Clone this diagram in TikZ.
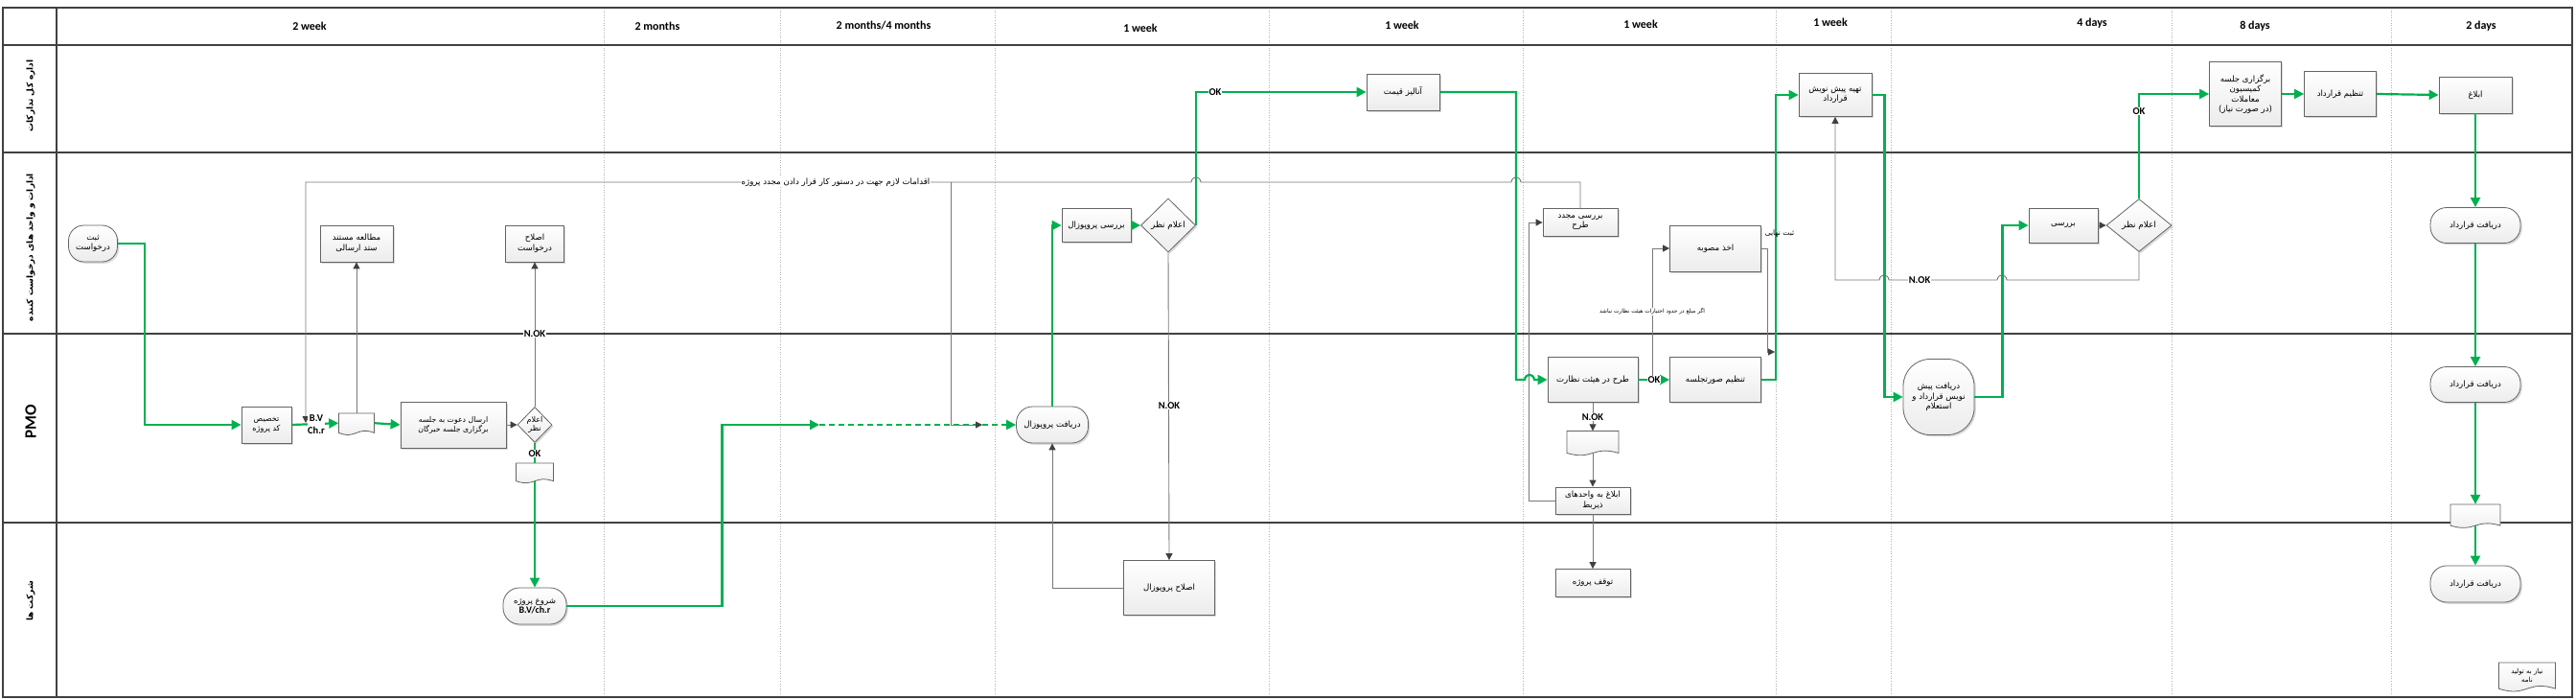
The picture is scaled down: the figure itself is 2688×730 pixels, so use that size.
\documentclass[tikz,border=0pt]{standalone}
\usepackage{fontspec}
\setmainfont{Carlito}
\newfontfamily\fa[Script=Arabic]{DejaVu Sans}
\TeXXeTstate=1
\usetikzlibrary{arrows.meta,shapes.geometric,calc,shadows}
\definecolor{pgreen}{RGB}{0,176,80}
\definecolor{lanecol}{RGB}{64,64,64}
\definecolor{linegray}{RGB}{120,120,120}
\definecolor{arrowgray}{RGB}{64,64,64}
\definecolor{boxborder}{RGB}{100,100,100}
\newcommand{\rl}[1]{\beginR #1\endR}
\newcommand{\docshape}[6]{%
  \path[draw=boxborder, line width=0.8pt, top color=white, bottom color=gray!15]
   ({#2-#4/2},{#3-#5/2}) -- ({#2+#4/2},{#3-#5/2}) -- ({#2+#4/2},{#3+0.35*#5})
   .. controls ({#2},{#3+0.05*#5}) and ({#2},{#3+0.65*#5}) .. ({#2-#4/2},{#3+0.35*#5}) -- cycle;
  \node[inner sep=0pt, minimum width=#4, minimum height={0.85*#5}, align=center, font=\fa\fontsize{7}{8.5}\selectfont, anchor=center] (#1) at (#2,{#3-0.075*#5}) {#6};}
\tikzset{
 box/.style={draw=boxborder, line width=0.8pt, top color=white, bottom color=gray!15, align=center, inner sep=1pt,
   font=\fa\fontsize{8.6}{10.5}\selectfont, drop shadow={shadow xshift=1.8pt, shadow yshift=-1.8pt, opacity=0.15, fill=black}},
 term/.style={box, rounded corners=#1},
 term/.default=15pt,
 dec/.style={diamond, draw=boxborder, line width=0.8pt, top color=white, bottom color=gray!15, inner sep=0pt,
   drop shadow={shadow xshift=1.8pt, shadow yshift=-1.8pt, opacity=0.15, fill=black}},
 dectext/.style={font=\fa\fontsize{8.8}{10}\selectfont, align=center, inner sep=0pt},
 lbl/.style={font=\bfseries\fontsize{10.5}{11}\selectfont, fill=white, inner sep=0.6pt},
 gline/.style={draw=pgreen, line width=2.2pt, -{Triangle[length=10pt,width=10pt]}},
 gplain/.style={draw=pgreen, line width=2.2pt},
 garrow/.style={draw=linegray, line width=0.9pt, -{Triangle[length=7pt,width=7pt,color=arrowgray]}},
 lane/.style={draw=lanecol, line width=2.6pt},
 colline/.style={draw=gray!60, line width=0.6pt, dotted},
 hdr/.style={font=\bfseries\fontsize{12}{14}\selectfont},
 lanelbl/.style={rotate=90, font=\fa\bfseries\fontsize{9}{11}\selectfont},
}
\begin{document}
\begin{tikzpicture}[x=1pt,y=-1pt]
\useasboundingbox (0,0) rectangle (2688,730);
\fill[white] (0,0) rectangle (2688,730);
% column dotted lines
\foreach \cx in {630,814,1038,1324,1589,1853,1973,2266,2495}
  \draw[colline] (\cx,8) -- (\cx,727);
% lanes
\draw[lane] (3,8) rectangle (2684,727);
\draw[lane] (59,8) -- (59,727);
\draw[lane] (3,47) -- (2684,47);
\draw[lane] (3,159) -- (2684,159);
\draw[lane] (3,348) -- (2684,348);
\draw[lane] (3,545) -- (2684,545);
% headers
\node[hdr] (h1) at (323,27) {2 week};
\node[hdr] (h2) at (686,27) {2 months};
\node[hdr] (h3) at (922,27) {2 months/4 months};
\node[hdr] (h4) at (1190,29) {1 week};
\node[hdr] (h5) at (1463,26) {1 week};
\node[hdr] (h6) at (1712,25) {1 week};
\node[hdr] (h7) at (1910,23) {1 week};
\node[hdr] (h8) at (2183,24) {4 days};
\node[hdr] (h9) at (2353,27) {8 days};
\node[hdr] (h10) at (2589,27) {2 days};
% lane labels
\node[lanelbl] (l1) at (32,100) {\rl{اداره کل تدارکات}};
\node[lanelbl] (l2) at (32,258) {\rl{ادارات و واحد های درخواست کننده}};
\node[rotate=90, font=\bfseries\fontsize{17}{18}\selectfont] (l3) at (32,440) {PMO};
\node[lanelbl] (l4) at (32,627) {\rl{شرکت ها}};

% ===== nodes =====
\node[term=16pt, minimum width=51, minimum height=38] (sabt) at (97,254) {\rl{ثبت}\\\rl{درخواست}};
\node[box, minimum width=76, minimum height=38] (motaleh) at (372,254) {\rl{مطالعه مستند}\\\rl{ستد ارسالی}};
\node[box, minimum width=61, minimum height=38] (eslahd) at (558,254) {\rl{اصلاح}\\\rl{درخواست}};
\node[box, minimum width=52, minimum height=38, font=\fa\fontsize{8}{10}\selectfont] (takhsis) at (278,443) {\rl{تخصیص}\\\rl{کد پروژه}};
\docshape{doc1}{372}{443}{37}{24}{}
\node[box, minimum width=110, minimum height=48, font=\fa\fontsize{7.8}{10}\selectfont] (ersal) at (473,443) {\rl{ارسال دعوت به جلسه}\\\rl{برگزاری جلسه خبرگان}};
\node[dec, minimum width=36, minimum height=37] (dec1) at (558,443) {};
\node[dectext, font=\fa\fontsize{8}{9.5}\selectfont] (dec1t) at (dec1) {\rl{اعلام}\\\rl{نظر}};
\docshape{doc2}{558}{494}{39}{22}{}
\node[term=17pt, minimum width=66, minimum height=38] (shoroo) at (558,632) {\rl{شروع پروژه}\\{\fontspec{Carlito}\bfseries\fontsize{10}{11}\selectfont B.V/ch.r}};
\node[term=17pt, minimum width=75, minimum height=38] (daryaftp) at (1098,443) {\rl{دریافت پروپوزال}};
\node[box, minimum width=72, minimum height=35] (barrasip) at (1144,235) {\rl{بررسی پروپوزال}};
\node[dec, minimum width=57, minimum height=56] (dec2) at (1219,235) {};
\node[dectext] (dec2t) at (dec2) {\rl{اعلام نظر}};
\node[box, minimum width=95, minimum height=57] (eslahp) at (1220,613) {\rl{اصلاح پروپوزال}};
\node[box, minimum width=76, minimum height=38] (analiz) at (1464,96) {\rl{آنالیز قیمت}};
\node[box, minimum width=78, minimum height=29] (barrasim) at (1649,232) {\rl{بررسی مجدد}\\\rl{طرح}};
\node[box, minimum width=94, minimum height=47] (tarh) at (1662,396) {\rl{طرح در هیئت نظارت}};
\docshape{doc3}{1662}{463}{54}{27}{}
\node[box, minimum width=78, minimum height=28] (eblaghv) at (1662,522) {\rl{ابلاغ به واحدهای}\\\rl{ذیربط}};
\node[box, minimum width=78, minimum height=29] (tavaghof) at (1662,608) {\rl{توقف پروژه}};
\node[box, minimum width=95, minimum height=48] (akhz) at (1790,259) {\rl{اخذ مصوبه}};
\node[box, minimum width=95, minimum height=47] (tanzims) at (1790,396) {\rl{تنظیم صورتجلسه}};
\node[box, minimum width=76, minimum height=45] (tahie) at (1915,99) {\rl{تهیه پیش نویش}\\\rl{قرارداد}};
\node[term=28pt, minimum width=74, minimum height=79] (daryaftpn) at (2023,414) {\rl{دریافت پیش}\\\rl{نویس قرارداد و}\\\rl{استعلام}};
\node[box, minimum width=72, minimum height=36] (barrasi) at (2153,235) {\rl{بررسی}};
\node[dec, minimum width=68, minimum height=55] (dec3) at (2232,235) {};
\node[dectext] (dec3t) at (dec3) {\rl{اعلام نظر}};
\node[box, minimum width=75, minimum height=67] (bargozari) at (2343,98) {\rl{برگزاری جلسه}\\\rl{کمیسیون}\\\rl{معاملات}\\\rl{(در صورت نیاز)}};
\node[box, minimum width=75, minimum height=47] (tanzimq) at (2442,98) {\rl{تنظیم قرارداد}};
\node[box, minimum width=76, minimum height=38] (eblagh) at (2583,99) {\rl{ابلاغ}};
\node[term=17pt, minimum width=94, minimum height=37] (dq1) at (2583,235) {\rl{دریافت قرارداد}};
\node[term=17pt, minimum width=94, minimum height=37] (dq2) at (2583,401) {\rl{دریافت قرارداد}};
\docshape{doc4}{2583}{539}{52}{26}{}
\node[term=17pt, minimum width=94, minimum height=38] (dq3) at (2583,609) {\rl{دریافت قرارداد}};
\docshape{doc5}{2637}{707}{59}{32}{\rl{نیاز به تولید}\\\rl{نامه}}

% ===== coordinates =====
\coordinate (bvpt) at (319,441);
\coordinate (gA) at (855,443);
\coordinate (brA) at (992,190);
\coordinate (brB) at (1025,443);
\coordinate (okpt) at (1724,396);
\coordinate (snpt) at (1852,367);

% ===== gray connectors =====
\draw[garrow] (barrasim.north) |- (1587,190) .. controls (1586,183) and (1578,183) .. (1577,190)
   -- (1253,190) .. controls (1252,183) and (1244,183) .. (1243,190) -- (319,190) -- (bvpt);
\node[font=\fa\fontsize{8.6}{10}\selectfont, fill=white, inner sep=1pt] (aqdamat) at (872,190) {\rl{اقدامات لازم جهت در دستور کار قرار دادن مجدد پروژه}};
\draw[garrow] (doc1.north) -- (motaleh.south);
\draw[garrow] (ersal.east) -- (dec1.west);
\draw[garrow] (dec1.north) -- (eslahd.south);
\node[lbl] (nok1) at (558,348) {N.OK};
\draw[garrow] (dec2.south) -- (eslahp.north);
\node[lbl] (nok2) at (1220,423) {N.OK};
\draw[garrow] (eslahp.west) -| (daryaftp.south);
\draw[garrow] (okpt) |- (akhz.west);
\node[font=\fa\fontsize{5.8}{7}\selectfont, fill=white, inner sep=0.5pt] (agar) at (1724,325) {\rl{اگر مبلغ در حدود اختیارات هیئت نظارت نباشد}};
\draw[garrow] (tarh.south) -- (doc3.north);
\node[lbl] (nok3) at (1662,435) {N.OK};
\draw[garrow] (doc3.south) -- (eblaghv.north);
\draw[garrow] (eblaghv.south) -- (tavaghof.north);
\draw[garrow] (eblaghv.west) -- ++(-27,0) |- (barrasim.west);
\draw[garrow] (akhz.east) -- ++(7,0) |- (snpt);
\draw[garrow] (barrasi.east) -- (dec3.west);
\draw[garrow] (dec3.south) |- (2094,292) .. controls (2093,285) and (2085,285) .. (2084,292)
   -- (1971,292) .. controls (1970,285) and (1962,285) .. (1961,292) -| (tahie.south);
\node[lbl] (nok4) at (2003,292) {N.OK};

% ===== green connectors =====
\draw[gline] (sabt.east) -- ++(28,0) |- (takhsis.west);
\draw[gline] (takhsis.east) -- (doc1.west);
\node[font=\bfseries\fontsize{10.5}{13}\selectfont, fill=white, inner sep=0.3pt, align=center] (bv) at (330,443) {B.V\\Ch.r};
\draw[gline] (doc1.east) -- (ersal.west);
\draw[gplain] (dec1.south) -- (doc2.north);
\node[lbl] (ok1) at (558,473) {OK};
\draw[gline] (doc2.south) -- (shoroo.north);
\draw[gline] (shoroo.east) -- ++(162,0) |- (gA);
\draw[gline, dash pattern=on 6pt off 4pt] (gA) -- (daryaftp.west);
\draw[garrow] (brA) |- (brB);
\draw[gline] (daryaftp.north) |- (barrasip.west);
\draw[gline] (barrasip.east) -- (dec2.west);
\draw[gline] (dec2.east) |- (analiz.west);
\node[lbl] (ok2) at (1268,96) {OK};
\draw[gline] (analiz.east) -- (1582,96) -- (1582,396) -- (1591,396) .. controls (1592,389) and (1600,389) .. (1601,396) -- (tarh.west);
\draw[gline] (tarh.east) -- (tanzims.west);
\node[lbl] (ok3) at (1726,396) {OK};
\draw[gline] (tanzims.east) -- ++(15,0) |- (tahie.west);
\node[font=\fa\fontsize{7.5}{8.5}\selectfont, inner sep=0.5pt] (sabtn) at (1857,244) {\rl{ثبت نهایی}};
\draw[gline] (tahie.east) -- ++(13,0) |- (daryaftpn.west);
\draw[gline] (daryaftpn.east) -- ++(29,0) |- (barrasi.west);
\draw[gline] (dec3.north) |- (bargozari.west);
\node[lbl] (ok4) at (2232,116) {OK};
\draw[gline] (bargozari.east) -- (tanzimq.west);
\draw[gline] (tanzimq.east) -- (eblagh.west);
\draw[gline] (eblagh.south) -- (dq1.north);
\draw[gline] (dq1.south) -- (dq2.north);
\draw[gline] (dq2.south) -- (doc4.north);
\draw[gline] (doc4.south) -- (dq3.north);
\end{tikzpicture}
\end{document}
